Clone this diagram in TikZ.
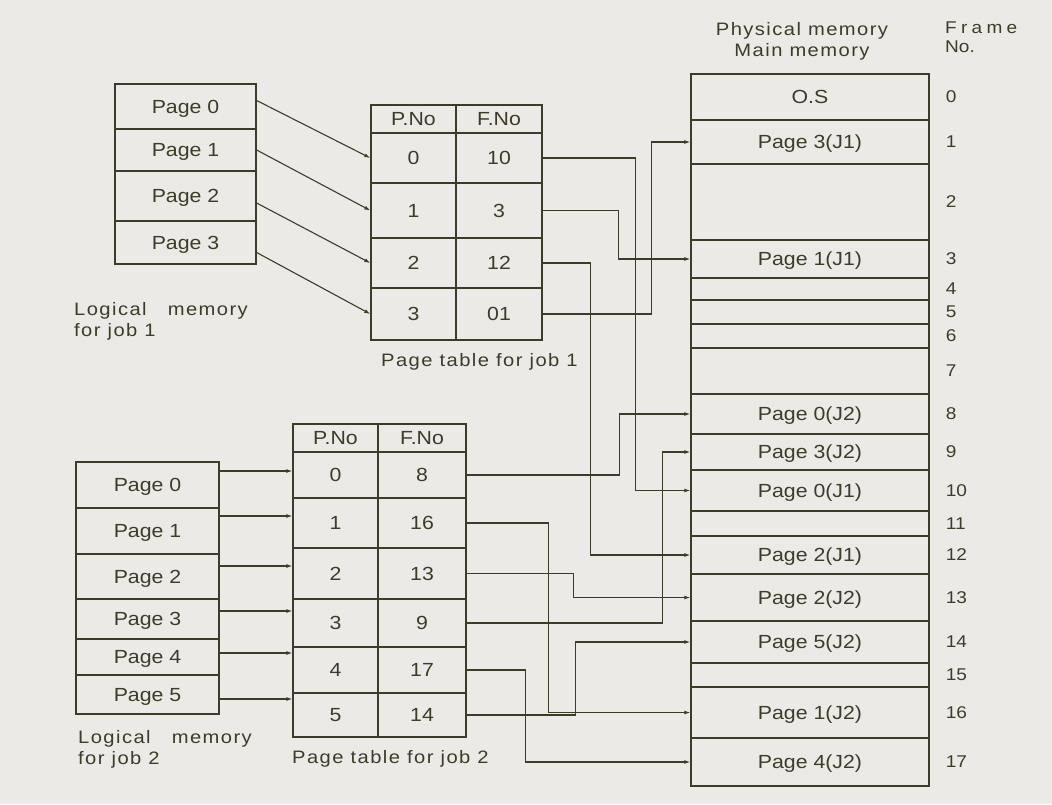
\documentclass[tikz,border=0pt]{standalone}
\usepackage{fontspec}
\setmainfont{Liberation Sans}[FakeStretch=1.12]
\usepackage{tikz}
\usetikzlibrary{arrows.meta}
\definecolor{paper}{HTML}{ECEAE7}
\definecolor{ink}{HTML}{3E3B29}

\begin{document}
\begin{tikzpicture}[x=1pt, y=-1pt,
    cell/.style={draw=ink, line width=1.3pt, inner sep=0pt, text=ink, text depth=0pt,
      font=\fontsize{19}{22}\selectfont},
    link/.style={draw=ink, line width=1.1pt, -{Latex[length=6pt,width=4pt]}},
    lbl/.style={text=ink, inner sep=0pt, align=left,
      font=\fontsize{18}{21}\selectfont\addfontfeature{LetterSpace=8}},
    fno/.style={text=ink, inner sep=0pt, anchor=west,
      font=\fontsize{17}{19}\selectfont}]
  % paper
  \fill[paper] (0,0) rectangle (1052,804);
  \useasboundingbox (0,0) rectangle (1052,804);

  % logical memory, job 1
  \foreach \i/\y/\h in {0/106.5/45, 1/150/42, 2/196/50, 3/242.5/43}
    \node[cell, minimum width=141pt, minimum height=\h pt] (lm1p\i) at (185.5,\y) {Page \i};

  % page table, job 1
  \node[cell, minimum width=85pt, minimum height=28pt] (pt1h) at (413.5,119) {P.No};
  \node[cell, minimum width=86pt, minimum height=28pt] (pt1fh) at (499,119) {F.No};
  \foreach \i/\f/\y/\h in {0/10/158/50, 1/3/210.5/55, 2/12/263/50, 3/01/314/52}{
    \node[cell, minimum width=85pt, minimum height=\h pt] (pt1p\i) at (413.5,\y) {\i};
    \node[cell, minimum width=86pt, minimum height=\h pt] (pt1f\i) at (499,\y) {\f};
  }

  % logical memory, job 2
  \foreach \i/\y/\h in {0/485/46, 1/531/46, 2/576.5/45, 3/619/40, 4/657/36, 5/694.5/39}
    \node[cell, minimum width=143pt, minimum height=\h pt] (lm2p\i) at (147.5,\y) {Page \i};

  % page table, job 2
  \node[cell, minimum width=85pt, minimum height=28pt] (pt2h) at (335.5,438) {P.No};
  \node[cell, minimum width=88pt, minimum height=28pt] (pt2fh) at (422,438) {F.No};
  \foreach \i/\f/\y/\h in {0/8/475/46, 1/16/523/50, 2/13/573.5/51, 3/9/623/48, 4/17/670/46, 5/14/715/44}{
    \node[cell, minimum width=85pt, minimum height=\h pt] (pt2p\i) at (335.5,\y) {\i};
    \node[cell, minimum width=88pt, minimum height=\h pt] (pt2f\i) at (422,\y) {\f};
  }

  % physical memory with frame numbers
  \foreach \i/\y/\h/\t in {0/97/46/O.S, 1/142/44/Page 3(J1), 2/202/76/, 3/259/38/Page 1(J1),
      4/289/22/, 5/312/24/, 6/336/24/, 7/371/46/, 8/414/40/Page 0(J2), 9/452/36/Page 3(J2),
      10/490.5/41/Page 0(J1), 11/523.5/25/, 12/555/38/Page 2(J1), 13/597.5/47/Page 2(J2),
      14/642/42/Page 5(J2), 15/675/24/, 16/712.5/51/Page 1(J2), 17/762/48/Page 4(J2)}{
    \node[cell, minimum width=238pt, minimum height=\h pt] (pm\i) at (810,\y) {\t};
    \node[fno] (fn\i) at ([xshift=16pt]pm\i.east) {\i};
  }

  % pages into page tables
  \foreach \i/\s in {0/6, 1/0, 2/-7, 3/-10}
    \draw[link] ([yshift=\s pt]lm1p\i.east) -- (pt1p\i.west);
  \foreach \i/\y in {0/471, 1/516, 2/566, 3/611, 4/653, 5/699}
    \draw[link] (lm2p\i.east |- 0,\y) -- (pt2p\i.west |- 0,\y);

  % page tables into frames
  \foreach \r/\f/\dx in {0/10/93, 1/3/76, 2/12/48, 3/1/109}
    \draw[link] (pt1f\r.east) -- ++(\dx,0) |- (pm\f.west);
  \foreach \r/\f/\dx in {0/8/153, 1/16/82, 2/13/107, 3/9/196, 4/17/59, 5/14/109}
    \draw[link] (pt2f\r.east) -- ++(\dx,0) |- (pm\f.west);

  % labels
  \node[lbl, align=center, anchor=north] (pmhead) at (802,22) {Physical memory\\Main memory};
  \node[fno, align=left, anchor=north west] (fhead) at (945,22)
    {\addfontfeature{LetterSpace=25}Frame\\No.};
  \node[lbl, anchor=north west] (lm1lbl) at (74,302) {Logical\ \ \ memory\\for job 1};
  \node[lbl, anchor=west] (pt1lbl) at (381,362) {Page table for job 1};
  \node[lbl, anchor=north west] (lm2lbl) at (78,730) {Logical\ \ \ memory\\for job 2};
  \node[lbl, anchor=west] (pt2lbl) at (292,759) {Page table for job 2};
\end{tikzpicture}
\end{document}
